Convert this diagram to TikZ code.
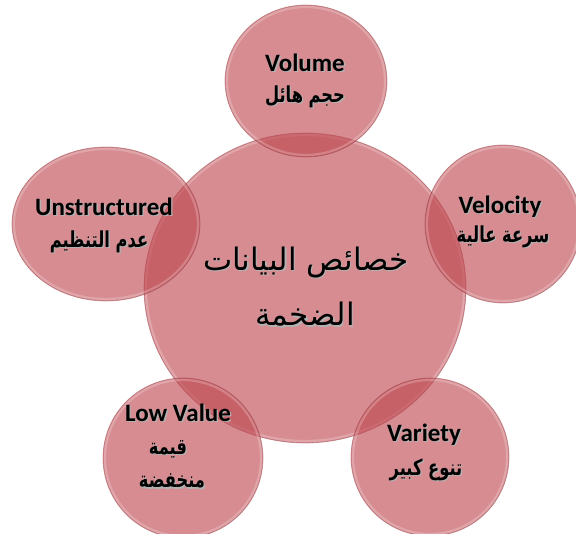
\documentclass[tikz,border=0pt]{standalone}
\usepackage{fontspec}
\setmainfont{Carlito}
\newfontfamily\arabicfont[Script=Arabic]{DejaVu Sans}
\newfontfamily\arabicnarrow[Script=Arabic,FakeStretch=0.74]{DejaVu Sans}
\TeXXeTstate=1
\usetikzlibrary{shapes.geometric}
\definecolor{bub}{RGB}{189,70,78}
\definecolor{rim}{RGB}{140,55,60}
% text with a soft offset shadow
\newcommand\shtext[1]{\leavevmode\rlap{\kern1.3pt\raisebox{-1.3pt}{\textcolor{black!30}{#1}}}#1}
\newcommand\artxt[1]{\arabicfont\beginR #1\endR}
\newcommand\arsat[1]{\arabicnarrow\beginR #1\endR}
\newcommand\bubble[5]{%
  \node[bubble, minimum width=#4*2pt, minimum height=#5*2pt] (#1) at (#2,#3) {};
  \draw[innerrim] (#2,#3) ellipse [x radius=#4-2, y radius=#5-2];
}
\begin{document}
\begin{tikzpicture}[x=1pt,y=-1pt,
  bubble/.style={ellipse, inner sep=0pt, fill=bub, fill opacity=0.62,
    draw=rim, draw opacity=0.45, line width=0.7pt},
  innerrim/.style={draw=white, draw opacity=0.22, line width=2.2pt},
  en/.style={font=\fontsize{25}{25}\selectfont\bfseries, text=black, inner sep=0pt},
  arb/.style={font=\fontsize{22}{22}\selectfont\bfseries, text=black, inner sep=0pt},
  core/.style={font=\fontsize{31}{31}\selectfont, text=black, inner sep=0pt}]
\useasboundingbox (0,0) rectangle (576,534);
\clip (0,0) rectangle (576,534);

% the five satellite bubbles and the central one
\bubble{core}{305}{288}{161}{155}
\bubble{vol}{306}{81}{81}{76}
\bubble{uns}{106}{224}{94}{77}
\bubble{vel}{503}{224}{78}{79}
\bubble{low}{183}{458}{80}{80}
\bubble{var}{430}{457}{79}{79}

% labels
\node[en] (volE) at (305,63) {\shtext{Volume}};
\node[arb] (volA) at (305,97) {\shtext{\arsat{حجم هائل}}};

\node[en] (unsE) at (104,207) {\shtext{Unstructured}};
\node[arb] (unsA) at (99,242) {\shtext{\arsat{عدم التنظيم}}};

\node[en] (velE) at (500,207) {\shtext{Velocity}};
\node[arb] (velA) at (503,237) {\shtext{\arsat{سرعة عالية}}};

\node[en] (lowE) at (178,413) {\shtext{Low Value}};
\node[arb] (lowA) at (168,450) {\shtext{\arsat{قيمة}}};
\node[arb] (lowB) at (172,482) {\shtext{\arsat{منخفضة}}};

\node[en] (varE) at (424,435) {\shtext{Variety}};
\node[arb] (varA) at (426,470) {\shtext{\arsat{تنوع كبير}}};

\node[core] (coreA) at (306,263) {\shtext{\artxt{خصائص البيانات}}};
\node[core] (coreB) at (305,315) {\shtext{\artxt{الضخمة}}};
\end{tikzpicture}
\end{document}
